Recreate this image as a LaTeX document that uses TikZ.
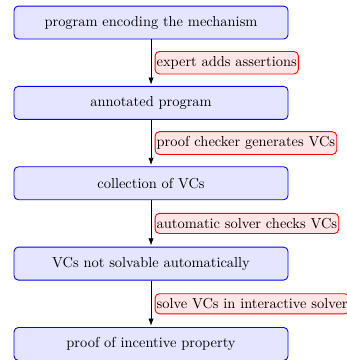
\documentclass[tikz,border=0pt]{standalone}
\usepackage{tikz}
\usetikzlibrary{arrows.meta, positioning}

\begin{document}
\begin{tikzpicture}[
			stage/.style={rectangle, rounded corners=3pt, draw=blue, fill=blue!10, semithick, minimum width=189.6pt, minimum height=22.8pt},
			action/.style={rectangle, rounded corners=3pt, draw=red, fill=red!10, semithick, inner xsep=1.1pt},
			flow/.style={-Latex, shorten >=1pt},
			node distance=32.2pt
			]
			
			\useasboundingbox (0,0) rectangle (240.1pt,-249.1pt);
			
			% ---------------- STAGES ----------------
			\node[stage] (prog) at (104.5pt,-15.6pt) {program encoding the mechanism};
			\node[stage, below=of prog] (annot) {annotated program};
			\node[stage, below=of annot] (vcs) {collection of VCs};
			\node[stage, below=of vcs] (open) {VCs not solvable automatically};
			\node[stage, below=of open] (proof) {proof of incentive property};
			
			% ---------------- STEPS ----------------
			\draw[flow] (prog) -- node[action, right=2.5pt] (s1) {expert adds assertions} (annot);
			\draw[flow] (annot) -- node[action, right=2.5pt] (s2) {proof checker generates VCs} (vcs);
			\draw[flow] (vcs) -- node[action, right=2.5pt] (s3) {automatic solver checks VCs} (open);
			\draw[flow] (open) -- node[action, right=2.5pt] (s4) {solve VCs in interactive solver} (proof);
			
		\end{tikzpicture}
\end{document}
